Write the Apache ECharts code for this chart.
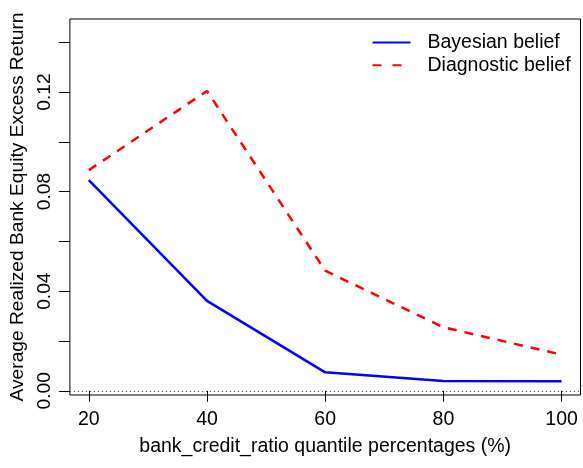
<!DOCTYPE html>
<html>
<head>
<meta charset="utf-8">
<script src="https://cdn.jsdelivr.net/npm/echarts@6/dist/echarts.min.js"></script>
<style>
  html, body { margin: 0; padding: 0; background: #fff; }
  #chart { width: 583px; height: 468px; }
</style>
</head>
<body>
<div id="chart"></div>
<script>
// Quantile buckets of bank_credit_ratio (%)
const quantiles = [20, 40, 60, 80, 100];
// Average realized bank equity excess return per bucket
const bayesianBelief = [0.0846, 0.0361, 0.0074, 0.0039, 0.0038];
const diagnosticBelief = [0.0886, 0.1204, 0.0482, 0.0255, 0.0145];
// Axis ticks and labels
const xTicks = [20, 40, 60, 80, 100];
const yTicks = [0, 0.02, 0.04, 0.06, 0.08, 0.10, 0.12, 0.14];
const yLabels = [0, 0.04, 0.08, 0.12];

const FONT = 'Liberation Sans, Arial, Helvetica, sans-serif';
const H_SIZE = 19.5;   // horizontal text
const V_SIZE = 19.2;   // rotated text
const chart = echarts.init(document.getElementById('chart'), null, { renderer: 'canvas' });

chart.setOption({
  animation: false,
  backgroundColor: '#fff',
  textStyle: { fontFamily: FONT, color: '#000' },
  grid: {
    left: 68, right: 2.5, top: 19, bottom: 73,
    show: true, borderColor: '#000', borderWidth: 1, backgroundColor: 'transparent',
    containLabel: false
  },
  legend: {
    orient: 'vertical',
    left: 366.5, top: 26.5,
    itemWidth: 38, itemHeight: 14, itemGap: 0.7,
    itemStyle: { opacity: 0 },
    textStyle: { fontFamily: FONT, fontSize: H_SIZE, color: '#000', lineHeight: 22, padding: [0, 0, 0, 12] },
    data: [
      { name: 'Bayesian belief' },
      { name: 'Diagnostic belief', lineStyle: { type: [9, 11] } }
    ]
  },
  xAxis: {
    type: 'value',
    min: 16.8, max: 103.2,
    name: 'bank_credit_ratio quantile percentages (%)',
    nameLocation: 'middle', nameGap: 42,
    nameTextStyle: { fontFamily: FONT, fontSize: H_SIZE, color: '#000' },
    axisLine: { show: false },
    splitLine: { show: false },
    axisTick: { show: true, length: 11, customValues: xTicks, lineStyle: { color: '#000', width: 1 } },
    axisLabel: { customValues: xTicks, margin: 15, fontFamily: FONT, fontSize: H_SIZE, color: '#000' }
  },
  yAxis: {
    type: 'value',
    min: -0.0017, max: 0.1493,
    name: 'Average Realized Bank Equity Excess Return',
    nameLocation: 'middle', nameGap: 42,
    nameTextStyle: { fontFamily: FONT, fontSize: V_SIZE, color: '#000' },
    axisLine: { show: false },
    splitLine: { show: false },
    axisTick: { show: true, length: 11, customValues: yTicks, lineStyle: { color: '#000', width: 1 } },
    axisLabel: {
      customValues: yLabels, rotate: 90, margin: 16,
      fontFamily: FONT, fontSize: V_SIZE, color: '#000',
      formatter: v => v.toFixed(2)
    }
  },
  series: [
    {
      name: 'Bayesian belief',
      type: 'line',
      data: quantiles.map((q, i) => [q, bayesianBelief[i]]),
      symbol: 'none',
      lineStyle: { color: '#0000ff', width: 2.5, type: 'solid' },
      itemStyle: { color: '#0000ff' },
      markLine: {
        silent: true,
        symbol: 'none',
        label: { show: false },
        lineStyle: { color: '#555', width: 1, type: [1.2, 2.8] },
        data: [{ yAxis: 0 }]
      }
    },
    {
      name: 'Diagnostic belief',
      type: 'line',
      data: quantiles.map((q, i) => [q, diagnosticBelief[i]]),
      symbol: 'none',
      lineStyle: { color: '#ff0000', width: 2.5, type: [9, 8] },
      itemStyle: { color: '#ff0000' }
    }
  ]
});
</script>
</body>
</html>
